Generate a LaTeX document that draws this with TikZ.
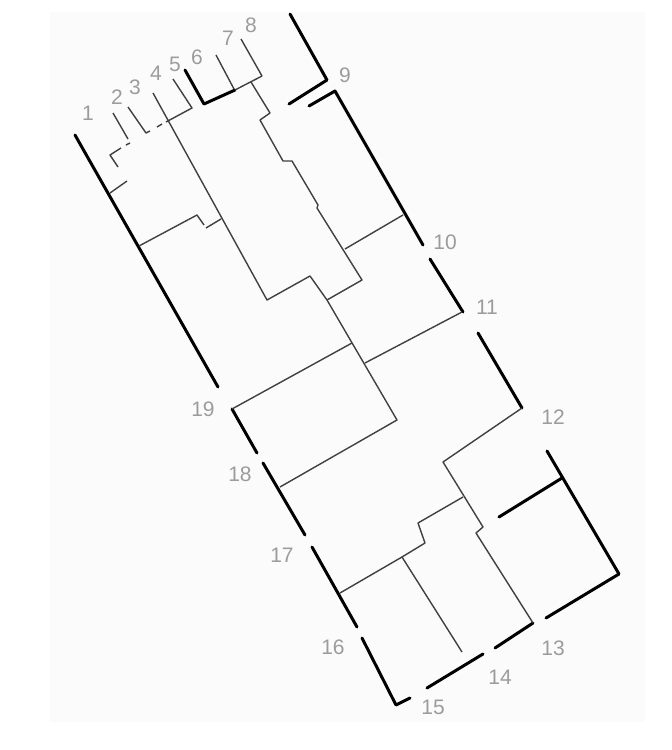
\documentclass[tikz,border=0pt]{standalone}
\usepackage{fontspec}
\setmainfont{Liberation Sans}
\definecolor{thincol}{HTML}{404040}
\definecolor{lblgray}{HTML}{9C9C9C}
\definecolor{bgcol}{HTML}{FBFBFB}
\begin{document}
\begin{tikzpicture}[x=1pt,y=-1pt,
  thk/.style={line width=3pt,black,line cap=round,line join=round},
  thn/.style={line width=1.4pt,thincol,line join=round},
  lbl/.style={text=lblgray,font=\fontsize{21}{25}\selectfont,inner sep=0pt}]
\useasboundingbox (0,0) rectangle (672,750);
\fill[bgcol] (50,12) rectangle (645,722);
% thick outer segments
\draw[thk] (75,135) -- (218,387);
\draw[thk] (232,409) -- (257,453);
\draw[thk] (263,463) -- (305,535);
\draw[thk] (312,547) -- (357,627);
\draw[thk] (362,638) -- (396,705) -- (410,698);
\draw[thk] (427,688) -- (483,654);
\draw[thk] (495,648) -- (533,623);
\draw[thk] (546,618) -- (619,574) -- (547,451);
\draw[thk] (562,478) -- (499,517);
\draw[thk] (478,333) -- (522,408);
\draw[thk] (430,259) -- (463,312);
\draw[thk] (309,106) -- (335,91) -- (423,245);
\draw[thk] (290,14) -- (327,80) -- (289,104);
\draw[thk] (185,70) -- (204,104) -- (235,90);
% thin tree lines
\draw[thn] (216,55) -- (234,89);
\draw[thn] (241,39) -- (262,76);
\draw[thn] (235,90) -- (262,76);
\draw[thn] (251,82) -- (270,113) -- (260,120) -- (283,161) -- (292,161) -- (318,205) -- (317,208) -- (362,280) -- (327,300);
\draw[thn] (153,93) -- (267,300) -- (310,276) -- (327,300);
\draw[thn] (327,300) -- (397,420) -- (280,487);
\draw[thn] (232,409) -- (352,343);
\draw[thn] (462,312) -- (365,363);
\draw[thn] (345,249) -- (403,215);
\draw[thn] (522,408) -- (443,462) -- (483,527) -- (476,533) -- (533,623);
\draw[thn] (340,593) -- (402,557) -- (425,543) -- (418,523) -- (463,497);
\draw[thn] (402,557) -- (462,652);
\draw[thn] (173,79) -- (192,108) -- (166,122);
\draw[thn] (157,127) -- (162,124);
\draw[thn] (128,107) -- (146,133) -- (150,131);
\draw[thn] (113,113) -- (128,139);
\draw[thn] (126,145) -- (130,143);
\draw[thn] (121,148) -- (110,155) -- (118,167);
\draw[thn] (110,193) -- (127,181);
\draw[thn] (139,246) -- (197,215) -- (204,225);
\draw[thn] (206,228) -- (221,219);
% labels
\node[lbl] (l1) at (88,113) {1};
\node[lbl] (l2) at (117,97) {2};
\node[lbl] (l3) at (135,87) {3};
\node[lbl] (l4) at (156,73) {4};
\node[lbl] (l5) at (175,64) {5};
\node[lbl] (l6) at (197,57) {6};
\node[lbl] (l7) at (228,38) {7};
\node[lbl] (l8) at (251,25) {8};
\node[lbl] (l9) at (345,75) {9};
\node[lbl] (l10) at (445,242) {10};
\node[lbl] (l11) at (487,307) {11};
\node[lbl] (l12) at (553,417) {12};
\node[lbl] (l13) at (553,648) {13};
\node[lbl] (l14) at (500,677) {14};
\node[lbl] (l15) at (433,707) {15};
\node[lbl] (l16) at (333,647) {16};
\node[lbl] (l17) at (282,555) {17};
\node[lbl] (l18) at (240,474) {18};
\node[lbl] (l19) at (203,409) {19};
\end{tikzpicture}
\end{document}
